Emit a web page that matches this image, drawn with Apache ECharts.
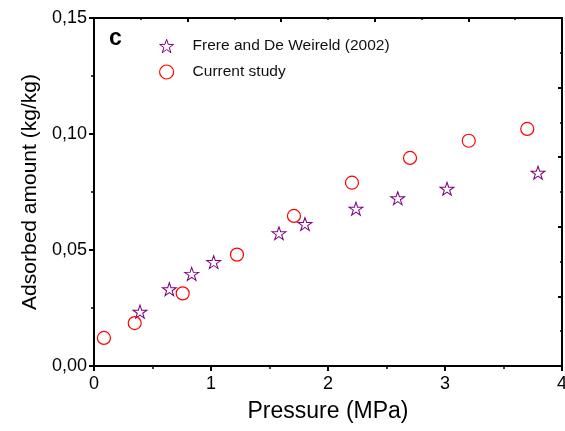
<!DOCTYPE html>
<html>
<head>
<meta charset="utf-8">
<script src="https://cdn.jsdelivr.net/npm/echarts@6/dist/echarts.min.js"></script>
<style>html,body{margin:0;padding:0;background:#fff;overflow:hidden;width:565px;height:431px}#c{width:565px;height:431px;display:block}</style>
</head>
<body>
<div id="c"></div>
<script>
// Frere and De Weireld (2002)
var frereX = [0.393, 0.644, 0.835, 1.023, 1.581, 1.803, 2.239, 2.596, 3.017, 3.795];
var frereY = [0.0234, 0.0331, 0.0397, 0.0448, 0.0572, 0.0612, 0.0678, 0.0723, 0.0764, 0.0833];
// Current study
var currentX = [0.085, 0.348, 0.758, 1.222, 1.709, 2.205, 2.701, 3.203, 3.703];
var currentY = [0.0121, 0.0185, 0.0313, 0.0480, 0.0647, 0.0790, 0.0897, 0.0971, 0.1022];
var seriesNames = ['Frere and De Weireld (2002)', 'Current study'];
var xTitle = 'Pressure (MPa)';
var yTitle = 'Adsorbed amount (kg/kg)';
var panelLabel = 'c';

var FONT = '"Liberation Sans", Arial, sans-serif';
var STAR = 'path://M50,2 L61.2,36.2 L97,36.2 L68,57.4 L79,91.6 L50,70.4 L21,91.6 L32,57.4 L3,36.2 L38.8,36.2 Z';
var starStyle = {color:'rgba(255,255,255,0)', borderColor:'#800080', borderWidth:1, opacity:1};
var circStyle = {color:'rgba(255,255,255,0)', borderColor:'#ff0000', borderWidth:1.2, opacity:1};

function pair(xs, ys){ return xs.map(function(x,i){ return [x, ys[i]]; }); }

var chart = echarts.init(document.getElementById('c'), null, {renderer:'canvas', width:565, height:431});
var axisLine = {show:true, onZero:false, lineStyle:{color:'#000', width:2}};
chart.setOption({
  animation:false,
  backgroundColor:'#fff',
  title:{text:panelLabel, left:104, top:22, textStyle:{fontFamily:FONT, fontWeight:'bold', fontSize:23, color:'#000'}},
  legend:{
    orient:'vertical', left:154, top:33, itemWidth:14, itemHeight:14, itemGap:10,
    textStyle:{fontFamily:FONT, fontSize:15.5, color:'#111', padding:[0,0,0,14]},
    data:[
      {name:seriesNames[0], icon:STAR, itemStyle:starStyle},
      {name:seriesNames[1], icon:'circle', itemStyle:circStyle}
    ]
  },
  grid:{left:94, top:18, width:468, height:348, containLabel:false, outerBoundsMode:'none'},
  xAxis:[{
    type:'value', position:'bottom', min:0, max:4, interval:1,
    axisLine:axisLine,
    axisTick:{show:true, inside:false, length:5, lineStyle:{color:'#000', width:2}},
    minorTick:{show:true, splitNumber:2, length:3, lineStyle:{color:'#000', width:1.5}},
    splitLine:{show:false}, minorSplitLine:{show:false},
    axisLabel:{fontFamily:FONT, fontSize:18, color:'#000', margin:9},
    name:xTitle, nameLocation:'middle', nameGap:34,
    nameTextStyle:{fontFamily:FONT, fontSize:23, color:'#000'}
  },{
    type:'value', position:'top', min:0, max:4, interval:0.8,
    axisLine:axisLine,
    axisTick:{show:true, inside:true, length:4, lineStyle:{color:'#000', width:2}},
    minorTick:{show:true, splitNumber:2, length:2, lineStyle:{color:'#000', width:1.5}},
    splitLine:{show:false}, minorSplitLine:{show:false},
    axisLabel:{show:false}
  }],
  yAxis:[{
    type:'value', position:'left', min:0, max:0.15, interval:0.05,
    axisLine:axisLine,
    axisTick:{show:true, inside:false, length:5, lineStyle:{color:'#000', width:2}},
    minorTick:{show:true, splitNumber:2, length:3, lineStyle:{color:'#000', width:1.5}},
    splitLine:{show:false}, minorSplitLine:{show:false},
    axisLabel:{fontFamily:FONT, fontSize:18, color:'#000', margin:7,
      formatter:function(v){ return v.toFixed(2).replace('.', ','); }},
    name:yTitle, nameLocation:'middle', nameGap:50,
    nameTextStyle:{fontFamily:FONT, fontSize:21, color:'#000'}
  },{
    type:'value', position:'right', min:0, max:0.15, interval:0.03,
    axisLine:axisLine,
    axisTick:{show:true, inside:true, length:4, lineStyle:{color:'#000', width:2}},
    minorTick:{show:true, splitNumber:2, length:2, lineStyle:{color:'#000', width:1.5}},
    splitLine:{show:false}, minorSplitLine:{show:false},
    axisLabel:{show:false}
  }],
  series:[{
    name:seriesNames[0], type:'scatter', xAxisIndex:0, yAxisIndex:0,
    symbol:STAR, symbolSize:[14,13],
    itemStyle:starStyle,
    data:pair(frereX, frereY)
  },{
    name:seriesNames[1], type:'scatter', xAxisIndex:0, yAxisIndex:0,
    symbol:'circle', symbolSize:13,
    itemStyle:circStyle,
    data:pair(currentX, currentY)
  }]
});
</script>
</body>
</html>
